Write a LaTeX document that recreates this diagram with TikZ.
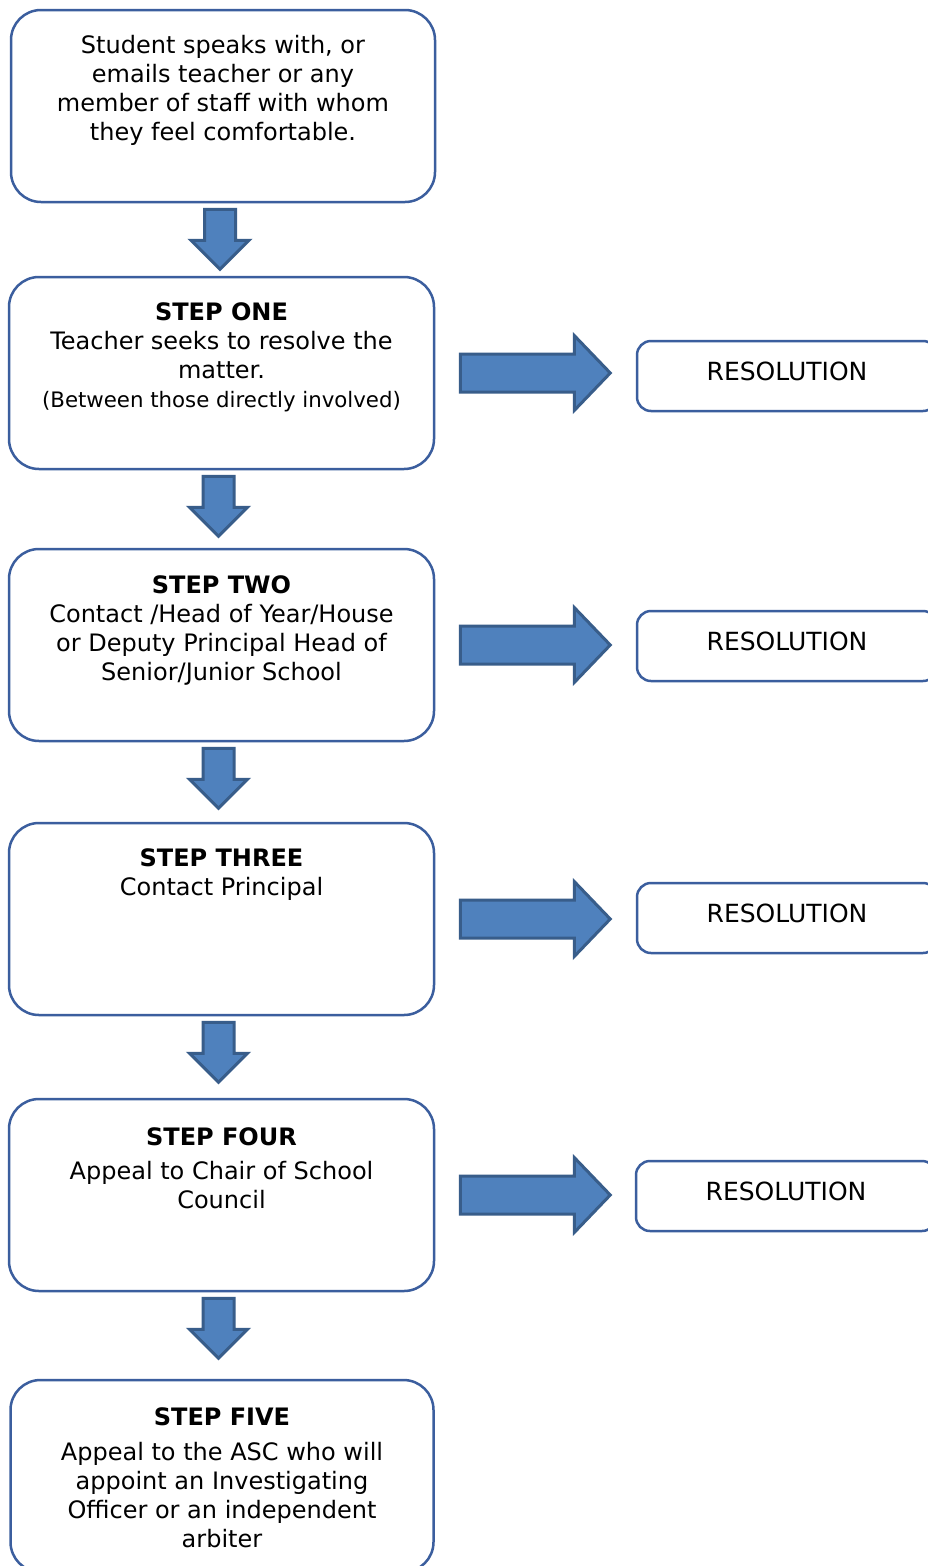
\documentclass[tikz,border=0pt]{standalone}
\usepackage{fontspec}
\setmainfont{DejaVu Sans}
\usetikzlibrary{calc}
\definecolor{boxline}{HTML}{3B5E9E}
\definecolor{arrfill}{HTML}{4F81BD}
\definecolor{arrline}{HTML}{385D8A}
\tikzset{
  stepbox/.style={draw=boxline, line width=2.5pt, rounded corners=30pt, minimum width=425pt, minimum height=192pt, inner sep=0pt},
  resbox/.style={draw=boxline, line width=2.5pt, rounded corners=14pt, minimum width=300pt, minimum height=70pt, inner sep=0pt},
  txt/.style={align=center, font=\fontsize{24}{29}\selectfont, inner sep=0pt},
  restxt/.style={align=center, font=\fontsize{25}{29}\selectfont, inner sep=0pt},
  blockarrow/.style={fill=arrfill, draw=arrline, line width=3pt, line join=miter},
}
\newcommand\dnarrow[1]{%
  \draw[blockarrow] ($(#1)+(-18.5,6)$) -- ++(31,0) -- ++(0,31) -- ++(13.5,0) -- ++(-29,29) -- ++(-29,-29) -- ++(13.5,0) -- cycle;}
\newcommand\rtarrow[1]{%
  \draw[blockarrow] ($(#1)+(25,-19)$) -- ++(114,0) -- ++(0,-18.5) -- ++(36,37.5) -- ++(-36,37.5) -- ++(0,-18.5) -- ++(-114,0) -- cycle;}
\begin{document}
\begin{tikzpicture}[x=1pt, y=-1pt]
\useasboundingbox (0,0) rectangle (928,1566);
\fill[white] (0,0) rectangle (928,1566);
\clip (0,0) rectangle (928,1566);

% step boxes
\node[stepbox, minimum width=424pt] (b0) at (223,106) {};
\node[stepbox] (b1) at (221.5,373) {};
\node[stepbox] (b2) at (221.5,645) {};
\node[stepbox] (b3) at (221.5,919) {};
\node[stepbox] (b4) at (221.5,1195) {};
\node[stepbox, minimum width=423pt] (b5) at (222,1476) {};

% texts
\node[txt] (t0) at (223,90.5) {Student speaks with, or\\emails teacher or any\\member of staff with whom\\they feel comfortable.};
\node[txt] (t1) at (221.5,357) {\textbf{STEP ONE}\\Teacher seeks to resolve the\\matter.\\{\fontsize{21.3}{28}\selectfont (Between those directly involved)}};
\node[txt] (t2) at (221.5,630) {\textbf{STEP TWO}\\Contact /Head of Year/House\\or Deputy Principal Head of\\Senior/Junior School};
\node[txt] (t3) at (221.5,874.5) {\textbf{STEP THREE}\\Contact Principal};
\node[txt] (t4) at (221.5,1168.5) {\textbf{STEP FOUR}\\[5pt]Appeal to Chair of School\\Council};
\node[txt] (t5) at (222,1478) {\textbf{STEP FIVE}\\[6pt]Appeal to the ASC who will\\appoint an Investigating\\Officer or an independent\\arbiter};

% resolution boxes
\node[resbox] (r1) at (787,376) {};
\node[resbox] (r2) at (787,646) {};
\node[resbox] (r3) at (787,918) {};
\node[resbox] (r4) at (786,1196) {};
\node[restxt] (rt1) at (787,371) {RESOLUTION};
\node[restxt] (rt2) at (787,641) {RESOLUTION};
\node[restxt] (rt3) at (787,913) {RESOLUTION};
\node[restxt] (rt4) at (786,1191) {RESOLUTION};

% down arrows
\dnarrow{b0.south}
\dnarrow{b1.south}
\dnarrow{b2.south}
\dnarrow{b3.south}
\dnarrow{b4.south}

% right arrows
\rtarrow{b1.east}
\rtarrow{b2.east}
\rtarrow{b3.east}
\rtarrow{b4.east}
\end{tikzpicture}
\end{document}
